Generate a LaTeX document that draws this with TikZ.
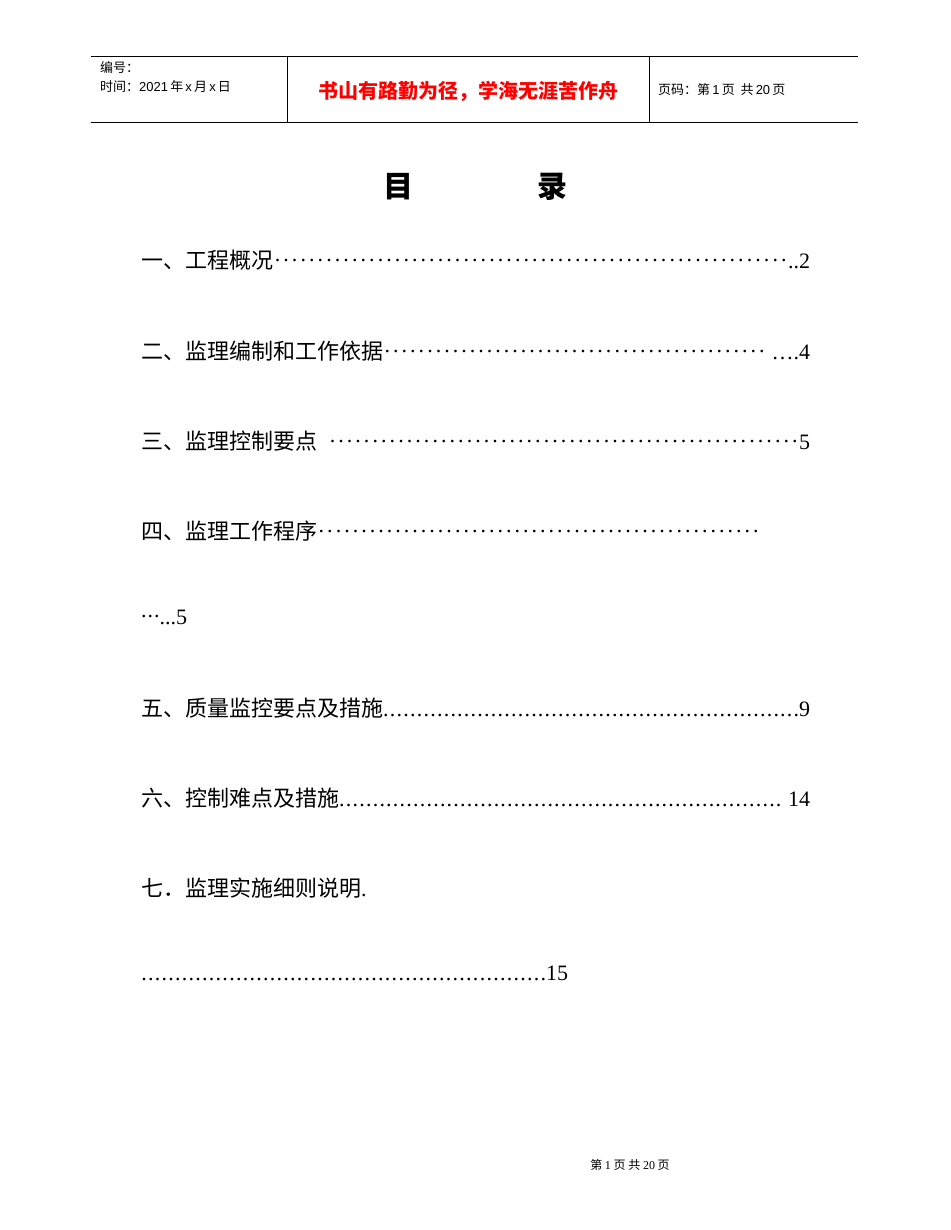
\documentclass[tikz,border=0pt]{standalone}
\usepackage{fontspec}
\setmainfont{Liberation Serif}
\newfontfamily\cjk{Noto Sans CJK SC}
\newfontfamily\hsans{Liberation Sans}
\newcommand\midlead{\xleaders\hbox{\kern1.5pt\raisebox{0.3em}{.}\kern1.5pt}\hfill}
\newcommand\lowlead{\xleaders\hbox{.\kern1.2pt}\hfill}
\begin{document}
\begin{tikzpicture}[x=1pt,y=-1pt,
  hdr/.style={anchor=west,inner sep=0pt,font=\fontsize{13}{15}\selectfont\cjk},
  toc/.style={anchor=west,inner sep=0pt,font=\fontsize{22}{26}\selectfont}]
\useasboundingbox[fill=white] (0,0) rectangle (950,1230);
\draw[line width=0.8pt] (91,56) -- (858,56);
\draw[line width=0.8pt] (91,122) -- (858,122);
\draw[line width=0.8pt] (287,56) -- (287,122);
\draw[line width=0.8pt] (649,56) -- (649,122);
\node[hdr] (h1) at (100,68) {编号：};
\node[hdr] (h2) at (100,87) {时间：{\hsans 2021\,}年{\hsans\,x\,}月{\hsans\,x\,}日};
\node[inner sep=0pt,text=red,font=\fontsize{20}{24}\selectfont\cjk\bfseries] (h3) at (468,91) {书山有路勤为径，学海无涯苦作舟};
\node[hdr] (h4) at (658,90) {页码：第{\hsans\,1\,}页\ \ 共{\hsans\,20\,}页};
\node[inner sep=0pt,font=\fontsize{30}{34}\selectfont\cjk\bfseries] (t1) at (398,187) {目};
\node[inner sep=0pt,font=\fontsize{30}{34}\selectfont\cjk\bfseries] (t2) at (552,187) {录};
\node[toc] (l1) at (141,260) {\hbox to 669pt{{\cjk 一、工程概况}\midlead..2}};
\node[toc] (l2) at (141,351) {\hbox to 669pt{{\cjk 二、监理编制和工作依据}\midlead\ ….4}};
\node[toc] (l3) at (141,441) {\hbox to 669pt{{\cjk 三、监理控制要点}\ \ \midlead 5}};
\node[toc] (l4) at (141,531) {\hbox to 619pt{{\cjk 四、监理工作程序}\midlead}};
\node[toc] (l5) at (141,617) {\raisebox{0.3em}{.}\kern1pt\raisebox{0.3em}{.}\kern1pt\raisebox{0.3em}{.}...5};
\node[toc] (l6) at (141,708) {\hbox to 669pt{{\cjk 五、质量监控要点及措施}\lowlead.9}};
\node[toc] (l7) at (141,798) {\hbox to 669pt{{\cjk 六、控制难点及措施}\lowlead\ 14}};
\node[toc] (l8) at (141,888) {{\cjk 七．监理实施细则说明}.};
\node[toc] (l9) at (141,973) {\hbox to 427pt{\lowlead.15}};
\node[inner sep=0pt,font=\fontsize{12}{14}\selectfont\cjk] (f) at (630,1165) {第\ {\rmfamily 1}\ 页\ 共\ {\rmfamily 20}\ 页};
\end{tikzpicture}
\end{document}
